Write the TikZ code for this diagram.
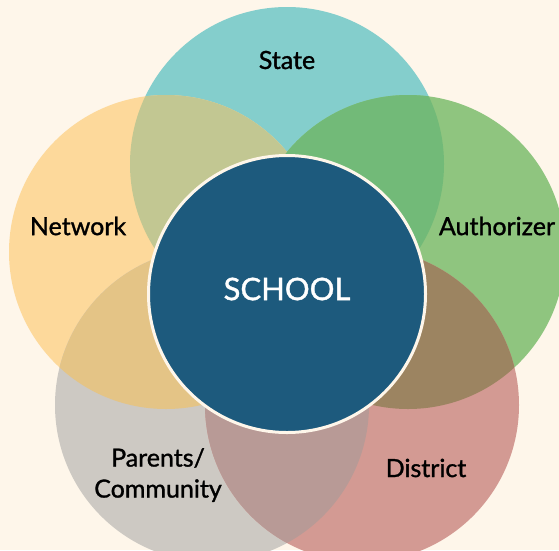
\documentclass[tikz,border=0pt]{standalone}
\usepackage{fontspec}
\setmainfont{Lato}
\newfontfamily\lblfont{Lato}[FakeBold=1.2]
\definecolor{bg}{HTML}{FEF6EA}
\definecolor{cstate}{HTML}{84CECC}
\definecolor{cnet}{HTML}{FDD99B}
\definecolor{cauth}{HTML}{8FC57F}
\definecolor{cpar}{HTML}{CDC9C3}
\definecolor{cdist}{HTML}{D39A93}
\definecolor{ostn}{HTML}{C2C792}
\definecolor{osta}{HTML}{72BA78}
\definecolor{onp}{HTML}{E4C486}
\definecolor{opd}{HTML}{B89A96}
\definecolor{oad}{HTML}{9C8461}
\definecolor{cschool}{HTML}{1D5A7D}
\begin{document}
\begin{tikzpicture}[x=1pt,y=-1pt,
  lbl/.style={font=\lblfont\fontsize{25}{31}\selectfont, text=black, align=center, inner sep=0pt},
  R/.style={radius=157pt}]
\fill[bg] (0,0) rectangle (559,550);
\clip (0,0) rectangle (559,550);
\coordinate (cS) at (287,164);
\coordinate (cN) at (166,252);
\coordinate (cA) at (408,252);
\coordinate (cP) at (212,405);
\coordinate (cD) at (362,405);
\fill[cstate] (cS) circle[R];
\fill[cnet] (cN) circle[R];
\fill[cauth] (cA) circle[R];
\fill[cpar] (cP) circle[R];
\fill[cdist] (cD) circle[R];
\begin{scope}\clip (cS) circle[R]; \fill[ostn] (cN) circle[R];\end{scope}
\begin{scope}\clip (cS) circle[R]; \fill[osta] (cA) circle[R];\end{scope}
\begin{scope}\clip (cN) circle[R]; \fill[onp] (cP) circle[R];\end{scope}
\begin{scope}\clip (cP) circle[R]; \fill[opd] (cD) circle[R];\end{scope}
\begin{scope}\clip (cA) circle[R]; \fill[oad] (cD) circle[R];\end{scope}
\node[circle, fill=cschool, draw=bg, line width=3pt, minimum size=277pt, inner sep=0pt] (school) at (287,294) {};
\node[text=white, font=\lblfont\fontsize{31}{36}\selectfont, inner sep=0pt] (schoollbl) at (287,289) {SCHOOL};
\node[lbl] (state) at (287,60) {State};
\node[lbl] (network) at (78,226) {Network};
\node[lbl] (auth) at (497,226) {Authorizer};
\node[lbl] (parents) at (158,475) {Parents/\\Community};
\node[lbl] (district) at (426,468) {District};
\end{tikzpicture}
\end{document}
